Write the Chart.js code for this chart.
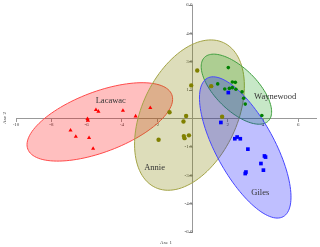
<!DOCTYPE html>
<html>
<head>
<meta charset="utf-8">
<script src="https://cdn.jsdelivr.net/npm/chart.js@4"></script>
<style>
  html, body { margin: 0; padding: 0; background: #fff; }
  #wrap { width: 320px; height: 247px; }
</style>
</head>
<body>
<div id="wrap"><canvas id="chart"></canvas></div>
<script>
// Site scores on the first two axes
const lacawacX = [-5.47, -5.33, -3.94, -3.22, -2.39, -5.95, -5.92, -6.91, -6.61, -5.86, -5.63];
const lacawacY = [0.46, 0.37, 0.42, 0.12, 0.56, -0.02, -0.11, -0.63, -0.96, -1.02, -1.59];
const annieX = [-1.30, -0.36, -0.51, -1.92, -0.49, -0.45, -0.20, 0.27, -0.07, 1.06, 1.68];
const annieY = [0.33, 0.13, -0.16, -1.12, -0.93, -1.04, -0.89, 2.54, 1.75, 1.71, 0.09];
const waynewoodX = [2.03, 1.43, 2.26, 2.43, 1.83, 2.09, 2.26, 2.46, 2.81, 2.90, 2.99, 3.93];
const waynewoodY = [2.69, 1.83, 1.93, 1.91, 1.56, 1.59, 1.63, 1.55, 1.41, 1.07, 0.76, 0.16];
const gilesX = [2.03, 1.61, 2.40, 2.53, 2.71, 3.14, 4.08, 4.14, 3.88, 4.02, 2.99, 3.03];
const gilesY = [1.37, -0.21, -1.07, -0.98, -1.07, -1.62, -1.98, -2.04, -2.38, -2.73, -2.91, -2.83];

// Confidence ellipses: centre and the two half-axis vectors (data units)
const groupNames = ['Lacawac', 'Annie', 'Waynewood', 'Giles'];
const ellipseCentres = [[-5.25, -0.18], [-0.17, 0.18], [2.49, 1.55], [2.99, -1.53]];
const ellipseMajor = [[4.08, 1.44], [1.93, 3.83], [1.81, -1.68], [2.15, -3.66]];
const ellipseMinor = [[0.61, -1.49], [2.44, -1.06], [0.84, 0.78], [1.45, 0.74]];
const labelPos = [[-4.63, 0.95], [-2.15, -2.58], [4.69, 1.16], [3.84, -3.95]];

const xTickStep = 2;
const yTickStep = 1.5;

const fills = ['rgba(255,0,0,0.25)', 'rgba(128,128,0,0.27)', 'rgba(0,150,0,0.22)', 'rgba(0,0,255,0.25)'];
const strokes = ['#ff4a4a', '#a3a345', '#3f9f3f', '#4646ff'];
const markerColors = ['#ff0000', '#808000', '#008000', '#0000ff'];

function toPoints(xs, ys) {
    return xs.map((x, i) => ({ x: x, y: ys[i] }));
}

const ellipsePlugin = {
    id: 'ellipses',
    beforeDatasetsDraw(chart) {
        const ctx = chart.ctx;
        const xs = chart.scales.x, ys = chart.scales.y;
        ctx.save();
        ellipseCentres.forEach((c, i) => {
            const u = ellipseMajor[i], v = ellipseMinor[i];
            ctx.beginPath();
            for (let k = 0; k <= 120; k++) {
                const t = k / 120 * Math.PI * 2;
                const px = xs.getPixelForValue(c[0] + Math.cos(t) * u[0] + Math.sin(t) * v[0]);
                const py = ys.getPixelForValue(c[1] + Math.cos(t) * u[1] + Math.sin(t) * v[1]);
                if (k === 0) ctx.moveTo(px, py); else ctx.lineTo(px, py);
            }
            ctx.closePath();
            ctx.fillStyle = fills[i];
            ctx.fill();
            ctx.lineWidth = 1;
            ctx.strokeStyle = strokes[i];
            ctx.stroke();
        });
        // group names
        ctx.fillStyle = '#333';
        ctx.font = '8.5px "Liberation Serif", serif';
        ctx.textAlign = 'center';
        ctx.textBaseline = 'middle';
        labelPos.forEach((p, i) => {
            ctx.fillText(groupNames[i], xs.getPixelForValue(p[0]), ys.getPixelForValue(p[1]));
        });
        // axis titles
        ctx.fillStyle = '#444';
        ctx.font = '5px "Liberation Serif", serif';
        ctx.fillText('Axe 1', 166, 243);
        ctx.translate(5, 118);
        ctx.rotate(-Math.PI / 2);
        ctx.fillText('Axe 2', 0, 0);
        ctx.restore();
    }
};

const tickFont = { family: '"Liberation Serif", serif', size: 5 };

new Chart(document.getElementById('chart'), {
    type: 'scatter',
    data: {
        datasets: [
            { label: 'Lacawac', data: toPoints(lacawacX, lacawacY), pointStyle: 'triangle', pointRadius: 2.4,
              backgroundColor: markerColors[0], borderColor: markerColors[0], borderWidth: 0 },
            { label: 'Annie', data: toPoints(annieX, annieY), pointStyle: 'circle', pointRadius: 2.2,
              backgroundColor: markerColors[1], borderColor: markerColors[1], borderWidth: 0 },
            { label: 'Waynewood', data: toPoints(waynewoodX, waynewoodY), pointStyle: 'circle', pointRadius: 1.8,
              backgroundColor: markerColors[2], borderColor: markerColors[2], borderWidth: 0 },
            { label: 'Giles', data: toPoints(gilesX, gilesY), pointStyle: 'rect', pointRadius: 2.6,
              backgroundColor: markerColors[3], borderColor: markerColors[3], borderWidth: 0 }
        ]
    },
    options: {
        responsive: true,
        maintainAspectRatio: false,
        animation: false,
        layout: { padding: { left: 16, right: 3, top: 5, bottom: 15 } },
        plugins: {
            legend: { display: false },
            tooltip: { enabled: false }
        },
        scales: {
            x: {
                type: 'linear',
                position: { y: 0 },
                min: -10,
                max: 7,
                ticks: {
                    stepSize: xTickStep,
                    includeBounds: false,
                    autoSkip: false,
                    maxRotation: 0,
                    padding: 0,
                    font: tickFont,
                    color: '#444',
                    callback: v => v === 0 ? '' : v
                },
                grid: { drawOnChartArea: false, drawTicks: true, tickLength: 3, color: '#999' },
                border: { color: '#999' }
            },
            y: {
                type: 'linear',
                position: { x: 0 },
                min: -6,
                max: 6,
                ticks: {
                    stepSize: yTickStep,
                    includeBounds: false,
                    autoSkip: false,
                    padding: 1,
                    font: tickFont,
                    color: '#444',
                    callback: v => v === 0 ? '' : v.toFixed(1)
                },
                grid: { drawOnChartArea: false, drawTicks: true, tickLength: 3, color: '#999' },
                border: { color: '#999' }
            }
        }
    },
    plugins: [ellipsePlugin]
});
</script>
</body>
</html>
